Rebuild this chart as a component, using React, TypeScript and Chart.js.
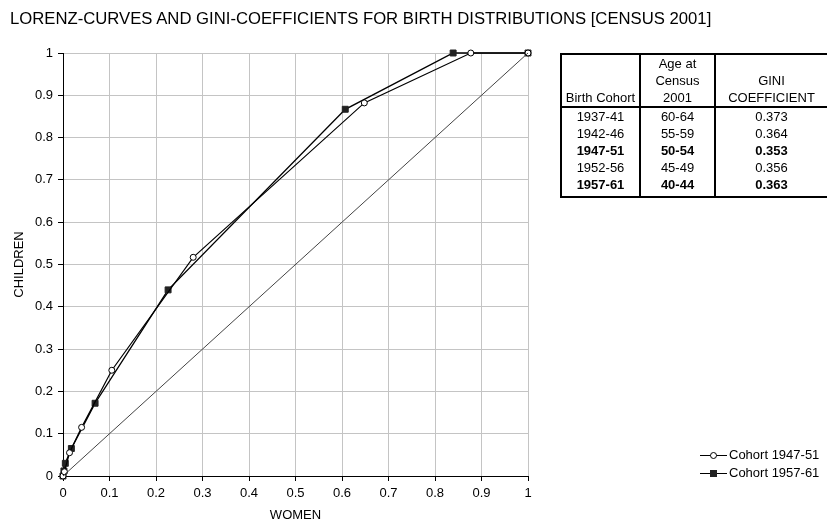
import React, { useEffect, useRef } from "react";
import { Chart, registerables } from "chart.js";

Chart.register(...registerables);

const TITLE = "LORENZ-CURVES AND GINI-COEFFICIENTS FOR BIRTH DISTRIBUTIONS [CENSUS 2001]";
const X_TITLE = "WOMEN";
const Y_TITLE = "CHILDREN";

// Lorenz curve points (cumulative share of women, cumulative share of children)
const womenCohort1947 = [0, 0.003, 0.014, 0.04, 0.105, 0.28, 0.648, 0.877, 1];
const childrenCohort1947 = [0, 0.01, 0.055, 0.115, 0.25, 0.517, 0.882, 1, 1];
const womenCohort1957 = [0, 0.002, 0.005, 0.018, 0.069, 0.226, 0.607, 0.839, 1];
const childrenCohort1957 = [0, 0.012, 0.03, 0.065, 0.172, 0.44, 0.867, 1, 1];
const equalityLine = [0, 1];

const seriesLabels = ["Cohort 1947-51", "Cohort 1957-61"];

// Table
const tableHeaders = [["Birth Cohort"], ["Age at", "Census", "2001"], ["GINI", "COEFFICIENT"]];
const birthCohorts = ["1937-41", "1942-46", "1947-51", "1952-56", "1957-61"];
const ageAtCensus = ["60-64", "55-59", "50-54", "45-49", "40-44"];
const giniCoefficients = ["0.373", "0.364", "0.353", "0.356", "0.363"];
const boldRows = [false, false, true, false, true];

const FONT = "'Liberation Sans', Arial, Helvetica, sans-serif";

const toPoints = (xs: number[], ys: number[]) => xs.map((x, i) => ({ x, y: ys[i] }));
const fmt = (v: any) => String(Math.round(Number(v) * 10) / 10);

export default function App() {
  const canvasRef = useRef<HTMLCanvasElement | null>(null);

  useEffect(() => {
    if (!canvasRef.current) return;
    const chart = new Chart(canvasRef.current, {
      type: "line",
      data: {
        datasets: [
          {
            label: "Equality",
            data: toPoints(equalityLine, equalityLine),
            borderColor: "#444",
            borderWidth: 1,
            pointRadius: 0,
            clip: false,
          } as any,
          {
            label: seriesLabels[0],
            data: toPoints(womenCohort1947, childrenCohort1947),
            borderColor: "#000",
            borderWidth: 1.2,
            pointStyle: "circle",
            pointRadius: 3,
            pointBackgroundColor: "#fff",
            pointBorderColor: "#000",
            pointBorderWidth: 1,
            clip: false,
          },
          {
            label: seriesLabels[1],
            data: toPoints(womenCohort1957, childrenCohort1957),
            borderColor: "#000",
            borderWidth: 1.4,
            pointStyle: "rect",
            pointRadius: 4.2,
            pointBackgroundColor: "#222",
            pointBorderColor: "#222",
            pointBorderWidth: 1,
            clip: false,
          },
        ],
      },
      options: {
        responsive: false,
        animation: false,
        devicePixelRatio: 1,
        layout: { padding: { left: 0, top: 53, right: 299, bottom: 0 } },
        plugins: { legend: { display: false }, tooltip: { enabled: false }, title: { display: false } },
        elements: { line: { tension: 0 } },
        scales: {
          x: {
            type: "linear",
            min: 0,
            max: 1,
            afterFit: (s: any) => {
              s.height = 48;
            },
            ticks: {
              stepSize: 0.1,
              color: "#000",
              font: { size: 13, family: FONT },
              padding: 5,
              maxRotation: 0,
              autoSkip: false,
              callback: fmt,
            },
            grid: { color: "#c4c4c4", lineWidth: 1, tickColor: "#000", tickLength: 5 },
            border: { color: "#000", width: 1 },
            title: {
              display: true,
              text: X_TITLE,
              color: "#000",
              font: { size: 13, family: FONT },
              padding: { top: 0, bottom: 1 },
            },
          },
          y: {
            type: "linear",
            min: 0,
            max: 1,
            afterFit: (s: any) => {
              s.width = 63;
            },
            ticks: {
              stepSize: 0.1,
              color: "#000",
              font: { size: 13, family: FONT },
              padding: 5,
              autoSkip: false,
              callback: fmt,
            },
            grid: { color: "#c4c4c4", lineWidth: 1, tickColor: "#000", tickLength: 5 },
            border: { color: "#000", width: 1 },
            title: {
              display: true,
              text: Y_TITLE,
              color: "#000",
              font: { size: 13, family: FONT },
              padding: { top: 12, bottom: 0 },
            },
          },
        },
      },
    });
    return () => chart.destroy();
  }, []);

  const cellBase: React.CSSProperties = {
    borderLeft: "2px solid #000",
    borderRight: "2px solid #000",
    textAlign: "center",
    padding: 0,
    height: 17,
    lineHeight: "17px",
    whiteSpace: "nowrap",
  };
  const colWidths = [79, 75, 113];

  return (
    <div
      style={{
        position: "absolute",
        left: 0,
        top: 0,
        width: 827,
        height: 524,
        overflow: "hidden",
        background: "#fff",
        fontFamily: FONT,
        color: "#000",
      }}
    >
      <canvas ref={canvasRef} width={827} height={524} style={{ position: "absolute", left: 0, top: 0 }} />
      <div
        style={{
          position: "absolute",
          left: 10,
          top: 11,
          fontSize: 16.7,
          lineHeight: 1,
          whiteSpace: "nowrap",
        }}
      >
        {TITLE}
      </div>

      <table
        style={{
          position: "absolute",
          left: 560,
          top: 53,
          borderCollapse: "collapse",
          fontSize: 13,
          border: "2px solid #000",
          tableLayout: "fixed",
          width: colWidths.reduce((a, b) => a + b, 0),
        }}
      >
        <colgroup>
          {colWidths.map((w, i) => (
            <col key={i} style={{ width: w }} />
          ))}
        </colgroup>
        <thead>
          <tr>
            {tableHeaders.map((lines, i) => (
              <th
                key={i}
                style={{
                  ...cellBase,
                  height: 51,
                  verticalAlign: "bottom",
                  fontWeight: "normal",
                  borderBottom: "2px solid #000",
                }}
              >
                {lines.map((l, j) => (
                  <div key={j}>{l}</div>
                ))}
              </th>
            ))}
          </tr>
        </thead>
        <tbody>
          {birthCohorts.map((c, i) => {
            const last = i === birthCohorts.length - 1;
            const st: React.CSSProperties = {
              ...cellBase,
              height: last ? 20 : 17,
              verticalAlign: "top",
            };
            return (
              <tr key={c} style={{ fontWeight: boldRows[i] ? "bold" : "normal" }}>
                <td style={st}>{c}</td>
                <td style={st}>{ageAtCensus[i]}</td>
                <td style={st}>{giniCoefficients[i]}</td>
              </tr>
            );
          })}
        </tbody>
      </table>

      {seriesLabels.map((label, i) => (
        <div
          key={label}
          style={{
            position: "absolute",
            left: 700,
            top: 446 + i * 18,
            height: 18,
            lineHeight: "18px",
            fontSize: 13,
            whiteSpace: "nowrap",
            display: "flex",
            alignItems: "center",
          }}
        >
          <div style={{ position: "relative", width: 27, height: 18 }}>
            <div
              style={{
                position: "absolute",
                left: 0,
                top: 9,
                width: 27,
                height: i === 0 ? 1 : 1.4,
                background: "#000",
              }}
            />
            {i === 0 ? (
              <div
                style={{
                  position: "absolute",
                  left: 10,
                  top: 6,
                  width: 5,
                  height: 5,
                  borderRadius: "50%",
                  border: "1px solid #000",
                  background: "#fff",
                }}
              />
            ) : (
              <div
                style={{
                  position: "absolute",
                  left: 10,
                  top: 6,
                  width: 7,
                  height: 7,
                  background: "#222",
                }}
              />
            )}
          </div>
          <span style={{ marginLeft: 2 }}>{label}</span>
        </div>
      ))}
    </div>
  );
}
